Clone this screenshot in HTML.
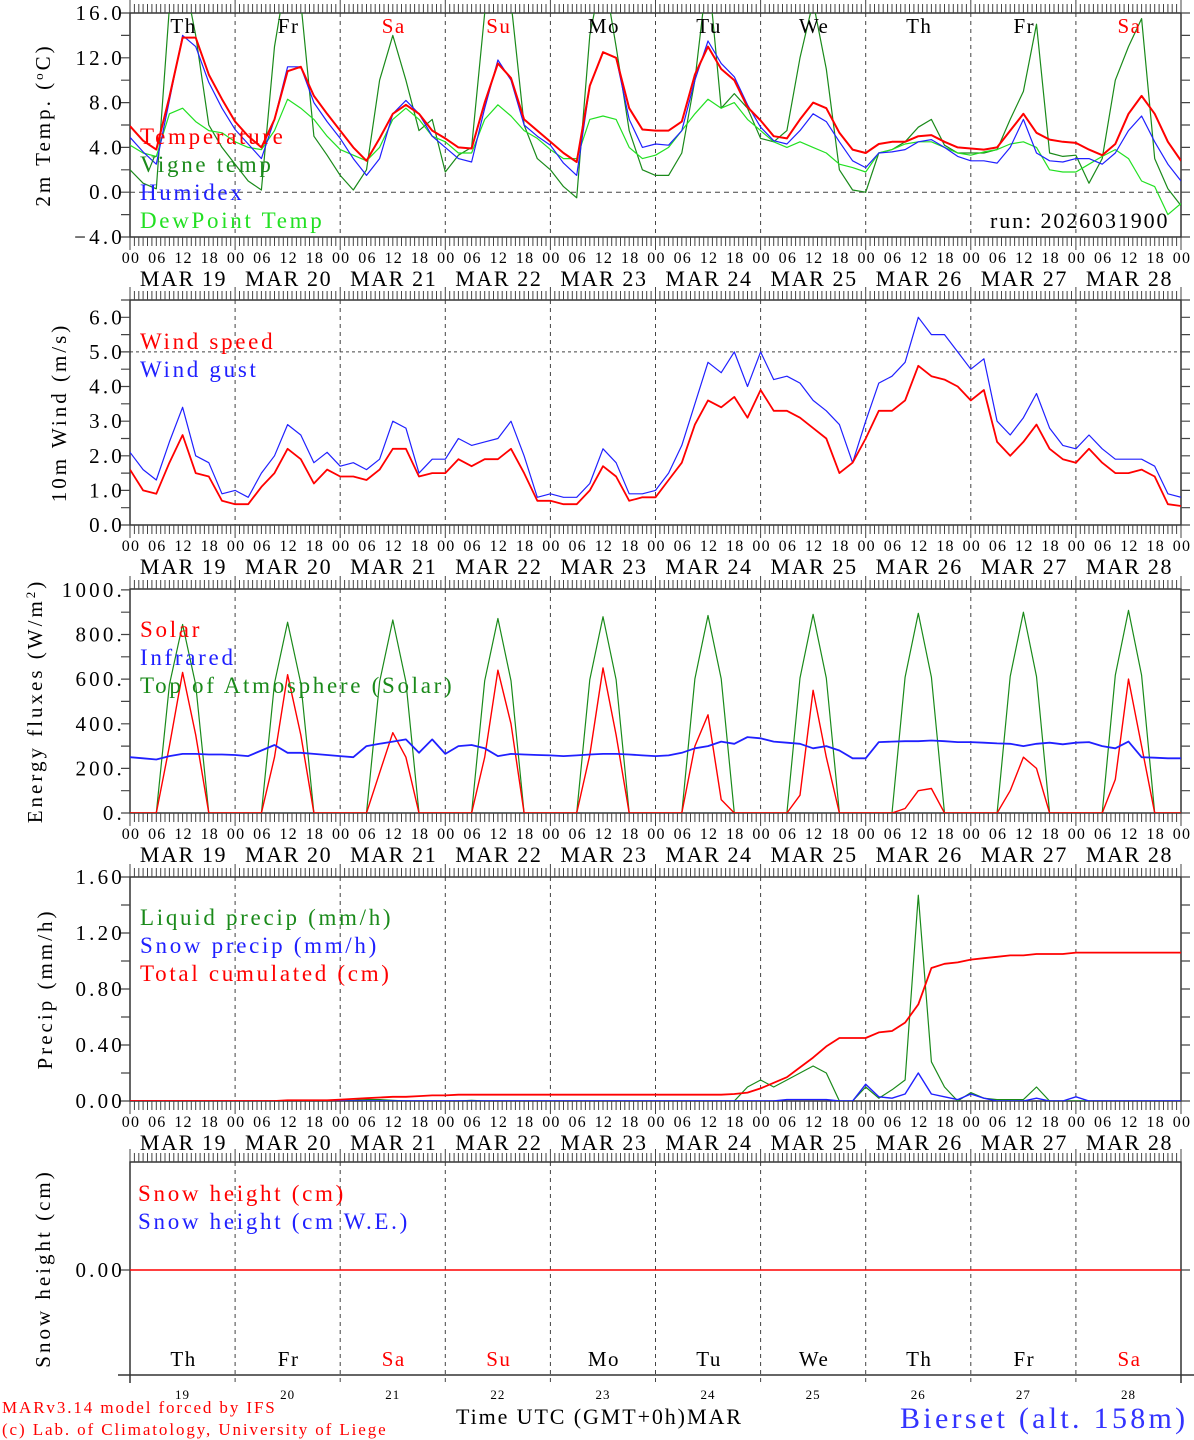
<!DOCTYPE html>
<html><head><meta charset="utf-8">
<style>
html,body{margin:0;padding:0;background:#fff;}
svg{display:block;font-family:"Liberation Serif",serif;}
</style></head>
<body>
<svg id="chart" width="1194" height="1440" viewBox="0 0 1194 1440" xmlns="http://www.w3.org/2000/svg">
<defs>
<clipPath id="c1"><rect x="130" y="13" width="1051" height="224"/></clipPath>
<clipPath id="c2"><rect x="130" y="300" width="1051" height="225"/></clipPath>
<clipPath id="c3"><rect x="130" y="589" width="1051" height="224"/></clipPath>
<clipPath id="c4"><rect x="130" y="877" width="1051" height="224"/></clipPath>
</defs>
<g id="layer"></g>
<text x="2" y="1413" font-size="17" letter-spacing="1.9" fill="#f00">MARv3.14 model forced by IFS</text>
<text x="2" y="1435" font-size="17" letter-spacing="1.9" fill="#f00">(c) Lab. of Climatology, University of Liege</text>
<text x="456" y="1424" font-size="22" letter-spacing="1.9" fill="#000">Time UTC (GMT+0h)</text>
<text x="687" y="1424" font-size="22" letter-spacing="1.9" fill="#000">MAR</text>
<text x="900" y="1428" font-size="30" letter-spacing="3.3" fill="#33f">Bierset (alt. 158m)</text>
<text x="990" y="228" font-size="22" letter-spacing="1.9" fill="#000">run: 2026031900</text>
</svg>
<script>
// ---- data (3-hourly, 19 MAR 00 UTC .. 29 MAR 00 UTC) ----
const days = ["19","20","21","22","23","24","25","26","27","28"];
const dayNames = ["Th","Fr","Sa","Su","Mo","Tu","We","Th","Fr","Sa"];
const hourLabels = ["00","06","12","18"];
const tempValues = [5.9,4.6,3.8,8.5,13.8,13.8,10.5,8.3, 6.3,5.0,4.0,6.5,10.8,11.2,8.6,7.0, 5.5,4.0,2.8,4.8,7.0,7.8,7.0,5.5, 4.8,4.0,3.9,8.0,11.5,10.2,6.5,5.5, 4.5,3.5,2.7,9.5,12.5,12.0,7.5,5.6, 5.5,5.5,6.3,10.5,13.0,11.0,10.0,7.6, 6.4,5.0,4.8,6.5,8.0,7.5,5.3,3.8, 3.5,4.3,4.5,4.5,5.0,5.1,4.5,4.0, 3.9,3.8,4.0,5.5,7.0,5.3,4.7,4.5, 4.4,3.8,3.3,4.3,7.0,8.6,7.0,4.5, 2.8];
const vigneValues = [2.0,0.8,0.3,16.5,20,14,6,4, 2.5,1.0,0.2,13,20,17,5,3.3, 1.5,0.2,2.0,10,14,10,5.5,6.5, 1.8,3.3,4.0,16,20,17,6,3.0, 2.0,0.5,-0.5,14,20,13,5.5,2.0, 1.5,1.5,3.5,10,20,7.5,8.8,7.5, 4.8,4.5,5.5,12,17,11,2.0,0.2, 0.0,3.5,3.8,4.5,5.8,6.5,4.2,3.5, 3.5,3.5,3.8,6.5,9,15,3.5,3.2, 3.3,0.8,3.0,10,13,15.5,3,0.3, -1.2];
const humidexValues = [4.9,3.6,2.5,8.2,14,13,9.8,7.5, 5.6,4.3,3.0,6.5,11.2,11.2,8.0,6.3, 4.8,3.0,1.5,3.0,7.0,8.2,7.0,5.0, 4.0,3.0,2.7,7.5,11.8,10,6.0,5.0, 4.2,2.6,1.5,9.5,12.5,12.0,6.5,4.0, 4.3,4.2,5.5,10,13.5,11.5,10.3,7.8, 5.8,4.6,4.3,5.5,7.0,6.3,4.5,2.8, 2.2,3.5,3.6,3.8,4.5,4.7,4.0,3.2, 2.8,2.8,2.6,4.0,6.5,3.5,2.8,2.7, 3.0,3.0,2.5,3.5,5.5,6.8,4.5,2.5, 1.0];
const dewValues = [4.2,3.5,3.2,7.0,7.5,6.3,5.5,5.3, 4.5,4.0,3.8,5.5,8.3,7.5,6.5,5.0, 3.8,3.3,2.8,4.0,6.5,7.5,6.5,5.0, 4.5,3.5,3.5,6.5,7.8,6.8,5.5,4.8, 3.8,3.0,3.0,6.5,6.8,6.5,4.0,3.0, 3.3,4.0,5.5,7.0,8.3,7.5,8.0,6.5, 5.5,4.5,4.0,4.5,4.0,3.5,2.5,2.2, 1.8,3.5,3.8,4.3,4.5,4.5,4.0,3.5, 3.3,3.6,3.8,4.3,4.5,4.0,2.0,1.8, 1.8,2.5,3.2,3.8,3.0,1.0,0.5,-2.0, -1.0];
const windValues = [1.6,1.0,0.9,1.8,2.6,1.5,1.4,0.7, 0.6,0.6,1.1,1.5,2.2,1.9,1.2,1.6, 1.4,1.4,1.3,1.6,2.2,2.2,1.4,1.5, 1.5,1.9,1.7,1.9,1.9,2.2,1.5,0.7, 0.7,0.6,0.6,1.0,1.7,1.4,0.7,0.8, 0.8,1.3,1.8,2.9,3.6,3.4,3.7,3.1, 3.9,3.3,3.3,3.1,2.8,2.5,1.5,1.8, 2.5,3.3,3.3,3.6,4.6,4.3,4.2,4.0, 3.6,3.9,2.4,2.0,2.4,2.9,2.2,1.9, 1.8,2.2,1.8,1.5,1.5,1.6,1.4,0.6, 0.55];
const gustValues = [2.1,1.6,1.3,2.4,3.4,2.0,1.8,0.9, 1.0,0.8,1.5,2.0,2.9,2.6,1.8,2.1, 1.7,1.8,1.6,1.9,3.0,2.8,1.5,1.9, 1.9,2.5,2.3,2.4,2.5,3.0,2.0,0.8, 0.9,0.8,0.8,1.2,2.2,1.8,0.9,0.9, 1.0,1.5,2.3,3.5,4.7,4.4,5.0,4.0, 5.0,4.2,4.3,4.1,3.6,3.3,2.9,1.8, 3.0,4.1,4.3,4.7,6.0,5.5,5.5,5.0, 4.5,4.8,3.0,2.6,3.1,3.8,2.8,2.3, 2.2,2.6,2.2,1.9,1.9,1.9,1.7,0.9, 0.8];
const solarValues = [0,0,0,300,630,350,0,0, 0,0,0,250,620,350,0,0, 0,0,0,180,360,250,0,0, 0,0,0,250,640,400,0,0, 0,0,0,260,650,350,0,0, 0,0,0,300,440,60,0,0, 0,0,0,80,550,250,0,0, 0,0,0,20,100,110,0,0, 0,0,0,100,250,200,0,0, 0,0,0,150,600,300,0,0, 0];
const infraredValues = [250,245,240,255,265,265,262,262, 260,255,280,305,270,270,265,260, 255,250,300,310,320,330,270,330, 265,300,305,290,255,265,262,260, 258,255,258,262,265,265,262,258, 255,258,270,290,300,320,310,340, 335,320,315,310,290,300,280,245, 245,318,320,322,322,325,322,318, 318,315,312,310,300,310,315,308, 315,318,300,290,320,250,248,245, 245];
const toaValues = [0,0,0,575,845,575,0,0, 0,0,0,582,855,582,0,0, 0,0,0,588,865,588,0,0, 0,0,0,593,872,593,0,0, 0,0,0,598,880,598,0,0, 0,0,0,602,885,602,0,0, 0,0,0,605,890,605,0,0, 0,0,0,609,895,609,0,0, 0,0,0,612,900,612,0,0, 0,0,0,617,908,617,0,0, 0];
const liquidValues = [0,0,0,0,0,0,0,0, 0,0,0,0,0,0,0,0, 0,0.005,0.01,0.01,0.005,0,0,0, 0,0,0.005,0,0,0,0,0, 0,0,0,0,0,0,0,0, 0,0,0,0,0,0,0,0.1, 0.15,0.1,0.15,0.2,0.25,0.2,0,0, 0.1,0.02,0.08,0.15,1.47,0.28,0.1,0, 0.06,0.02,0.01,0.01,0.01,0.1,0,0, 0,0,0,0,0,0,0,0, 0];
const snowValues = [0,0,0,0,0,0,0,0, 0,0,0,0,0,0,0,0, 0,0,0,0,0,0,0,0, 0,0,0,0,0,0,0,0, 0,0,0,0,0,0,0,0, 0,0,0,0,0,0,0,0, 0,0,0.01,0.01,0.01,0.01,0,0, 0.12,0.03,0.02,0.05,0.2,0.05,0.03,0.01, 0.05,0.02,0,0,0,0.02,0,0, 0.03,0,0,0,0,0,0,0, 0];
const cumulValues = [0,0,0,0,0,0,0,0, 0,0,0,0,0.005,0.005,0.005,0.005, 0.01,0.015,0.02,0.025,0.03,0.03,0.035,0.04, 0.04,0.045,0.045,0.045,0.045,0.045,0.045,0.045, 0.045,0.045,0.045,0.045,0.045,0.045,0.045,0.045, 0.045,0.045,0.045,0.045,0.045,0.045,0.05,0.06, 0.09,0.13,0.17,0.24,0.31,0.39,0.45,0.45, 0.45,0.49,0.5,0.56,0.69,0.95,0.98,0.99, 1.01,1.02,1.03,1.04,1.04,1.05,1.05,1.05, 1.06,1.06,1.06,1.06,1.06,1.06,1.06,1.06, 1.06];
const snowHeightValues = [0,0];

const NS = "http://www.w3.org/2000/svg";
const layer = document.getElementById("layer");
const X0 = 130, X1 = 1181;
function xs(h){ return X0 + h*(X1-X0)/240; }
function mk(tag, attrs, parent){
  const e = document.createElementNS(NS, tag);
  for (const k in attrs) e.setAttribute(k, attrs[k]);
  (parent||layer).appendChild(e);
  return e;
}
function txt(s, x, y, size, anchor, color, parent, ls){
  const t = mk("text", {x:x, y:y, "font-size":size, "text-anchor":anchor, fill:color, "letter-spacing":ls||0}, parent);
  t.textContent = s;
  return t;
}

function panel(p){
  const g = mk("g", {});
  
  
  const ys = v => p.bot - (v - p.min)*(p.bot - p.top)/(p.max - p.min);
  for (let d=1; d<10; d++){
    const l = mk("line", {x1:xs(d*24), x2:xs(d*24), y1:p.top, y2:p.bot, stroke:"#444", "stroke-width":1, "stroke-dasharray":"4,4"}, g);
    
    
  }
  if (p.ref !== undefined){
    const l = mk("line", {x1:X0, x2:X1, y1:ys(p.ref), y2:ys(p.ref), stroke:"#444", "stroke-width":1, "stroke-dasharray":p.refDash||"5,4"}, g);
    
    
  }
  const fr = mk("path", {d:`M${X0},${p.top}H${X1}V${p.bot}H${X0}Z`, fill:"none", stroke:"#333", "stroke-width":1.5}, g);
  
  
  let d1 = "";
  for (let h=0; h<=240; h++){
    const x = xs(h).toFixed(1);
    const big = h%24===0;
    d1 += `M${x},${p.top}V${p.top-(big?13:9)}`;
    d1 += `M${x},${p.bot}V${p.bot+(big?13:9)}`;
  }
  const tk = mk("path", {d:d1, stroke:"#444", "stroke-width":1}, g);
  
  
  let d2 = "";
  for (let v=p.min; v<=p.max+1e-9; v+=p.minor){
    const y = ys(v).toFixed(1);
    d2 += `M${X0},${y}H${X0-9}M${X1},${y}H${X1+9}`;
  }
  const yt = mk("path", {d:d2, stroke:"#444", "stroke-width":1.2}, g);
  
  
  p.labels.forEach(lb => {
    const t = txt(lb[1], 125, ys(lb[0])+7, 21, "end", "#000", g, 3.2);
    
    
  });
  const cx = p.titleX, cy = (p.top+p.bot)/2;
  const tt = mk("text", {x:cx, y:cy, "font-size":21, "letter-spacing":3, "text-anchor":"middle", fill:"#000", transform:`rotate(-90 ${cx} ${cy})`}, g);
  tt.innerHTML = p.title;
  
  
  if (p.xlabels){
    for (let d=0; d<10; d++){
      for (let k=0; k<4; k++){
        const t = txt(hourLabels[k], xs(d*24+k*6)+1, p.bot+26, 16, "middle", "#000", g, 1.2);
        
        
      }
      const t2 = txt("MAR "+days[d], xs(d*24+12)+1, p.bot+49, 22, "middle", "#000", g, 1.6);
      
      
    }
    const t = txt("00", xs(240)+1, p.bot+26, 16, "middle", "#000", g, 1.2);
    
    
  }
  const sg = mk("g", {"clip-path":`url(#${p.clip})`}, g);
  p.series.forEach(s => {
    const pts = s.data.map((v,i) => xs(i*(s.step||3)).toFixed(1)+","+ys(v).toFixed(1)).join(" ");
    const pl = mk("polyline", {points:pts, fill:"none", stroke:s.color, "stroke-width":s.w||1.2, "stroke-linejoin":"round"}, sg);
    
    
  });
  p.legend.forEach((lg,i) => {
    const t = txt(lg[0], p.legX||140, p.legY + i*28, 23, "start", lg[1], g, 2.7);
    
    
  });
  return ys;
}

panel({name:"temperature-panel", top:13, bot:237, min:-4, max:16, minor:2, clip:"c1", ref:0,
  labels:[[16,"16.0"],[12,"12.0"],[8,"8.0"],[4,"4.0"],[0,"0.0"],[-4,"\u22124.0"]],
  title:"2m Temp. (<tspan baseline-shift='super' font-size='13'>o</tspan>C)", titleX:50, xlabels:true,
  series:[{name:"vigne-temp-line",data:vigneValues,color:"#1a8a1a",w:1.2},
          {name:"dewpoint-line",data:dewValues,color:"#22e022",w:1.2},
          {name:"humidex-line",data:humidexValues,color:"#2020ff",w:1.2},
          {name:"temperature-line",data:tempValues,color:"#f00",w:2}],
  legend:[["Temperature","#f00"],["Vigne temp","#1a8a1a"],["Humidex","#2020ff"],["DewPoint Temp","#22e022"]], legY:144});

panel({name:"wind-panel", top:300, bot:525, min:0, max:6.5, minor:0.5, clip:"c2", ref:5, refDash:"3,3",
  labels:[[6,"6.0"],[5,"5.0"],[4,"4.0"],[3,"3.0"],[2,"2.0"],[1,"1.0"],[0,"0.0"]],
  title:"10m Wind (m/s)", titleX:66, xlabels:true,
  series:[{name:"wind-gust-line",data:gustValues,color:"#2020ff",w:1.2},
          {name:"wind-speed-line",data:windValues,color:"#f00",w:1.8}],
  legend:[["Wind speed","#f00"],["Wind gust","#2020ff"]], legY:349});

panel({name:"energy-panel", top:589, bot:813, min:0, max:1004, minor:100, clip:"c3",
  labels:[[1000,"1000."],[800,"800."],[600,"600."],[400,"400."],[200,"200."],[0,"0."]],
  title:"Energy fluxes (W/m<tspan baseline-shift='super' font-size='13'>2</tspan>)", titleX:42, xlabels:true,
  series:[{name:"toa-solar-line",data:toaValues,color:"#1a8a1a",w:1.2},
          {name:"solar-line",data:solarValues,color:"#f00",w:1.4},
          {name:"infrared-line",data:infraredValues,color:"#2020ff",w:1.8}],
  legend:[["Solar","#f00"],["Infrared","#2020ff"],["Top of Atmosphere (Solar)","#1a8a1a"]], legY:637});

panel({name:"precip-panel", top:877, bot:1101, min:0, max:1.6, minor:0.2, clip:"c4",
  labels:[[1.6,"1.60"],[1.2,"1.20"],[0.8,"0.80"],[0.4,"0.40"],[0,"0.00"]],
  title:"Precip (mm/h)", titleX:52, xlabels:true,
  series:[{name:"liquid-precip-line",data:liquidValues,color:"#1a8a1a",w:1.2},
          {name:"snow-precip-line",data:snowValues,color:"#2020ff",w:1.4},
          {name:"cumulated-precip-line",data:cumulValues,color:"#f00",w:1.8}],
  legend:[["Liquid precip (mm/h)","#1a8a1a"],["Snow precip (mm/h)","#2020ff"],["Total cumulated (cm)","#f00"]], legY:925});

(function(){
  const top = 1162, bot = 1375, y0 = 1270;
  const g = mk("g", {});
  
  
  for (let d=1; d<10; d++){
    const l = mk("line", {x1:xs(d*24), x2:xs(d*24), y1:top, y2:bot+8, stroke:"#444", "stroke-width":1, "stroke-dasharray":"4,4"}, g);
    
    
  }
  const fr = mk("path", {d:`M${X0},${bot+8}V${top}H${X1}V${bot+8}M118,${bot}H1194`, fill:"none", stroke:"#333", "stroke-width":1.5}, g);
  
  
  let d1 = "";
  for (let h=0; h<=240; h++){ const x = xs(h).toFixed(1); d1 += `M${x},${top}V${top-(h%24===0?13:9)}`; }
  const tk = mk("path", {d:d1, stroke:"#444", "stroke-width":1}, g);
  
  
  const yt = mk("path", {d:`M${X0},${y0}H${X0-9}M${X1},${y0}H${X1+9}`, stroke:"#444", "stroke-width":1.2}, g);
  
  
  const lb = txt("0.00", 125, y0+7, 21, "end", "#000", g, 3.2);
  
  
  const tt = mk("text", {x:50, y:(top+bot)/2, "font-size":21, "letter-spacing":3, "text-anchor":"middle", fill:"#000", transform:`rotate(-90 50 ${(top+bot)/2})`}, g);
  tt.textContent = "Snow height (cm)";
  
  
  const pts = snowHeightValues.map((v,i) => xs(i*240).toFixed(1)+","+(y0 - v*50).toFixed(1)).join(" ");
  const pl = mk("polyline", {points:pts, fill:"none", stroke:"#f00", "stroke-width":1.5}, g);
  
  
  const l1 = txt("Snow height (cm)", 138, 1201, 23, "start", "#f00", g, 2.7);
  
  
  const l2 = txt("Snow height (cm W.E.)", 138, 1229, 23, "start", "#2020ff", g, 2.7);
  
  
  for (let d=0; d<10; d++){
    const col = (dayNames[d]==="Sa"||dayNames[d]==="Su") ? "#f00" : "#000";
    const t = txt(dayNames[d], xs(d*24+12)+1, 1366, 21, "middle", col, g, 1.5);
    
    
    const n = txt(days[d], xs(d*24+12), 1399, 13, "middle", "#000", g, 1);
    
    
    const top1 = txt(dayNames[d], xs(d*24+12)+1, 33, 21, "middle", col, null, 1.5);
    
    
  }
})();
</script>
</body></html>
